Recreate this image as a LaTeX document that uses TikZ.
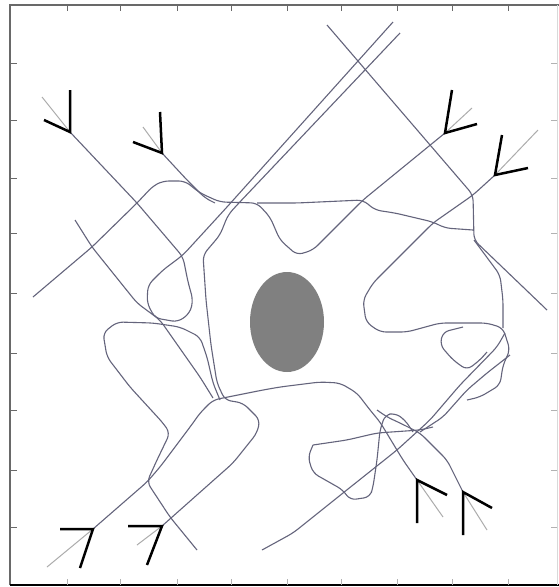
\documentclass[tikz,border=0pt]{standalone}
\usepackage{xcolor}
\usepackage{tikz}
\definecolor{trail}{RGB}{100,100,124}
\definecolor{frame}{RGB}{105,105,105}
\definecolor{blob}{RGB}{128,128,128}

\begin{document}
\begin{tikzpicture}[x=1pt,y=-1pt,
    trk/.style={draw=trail,line width=1.1pt,rounded corners=6pt},
    tail/.style={draw=gray!65,line width=1pt},
    vane/.style={draw=black,line width=2.5pt,line join=miter}]
  \useasboundingbox (0,0) rectangle (559,587);
  \fill[white] (0,0) rectangle (559,587);
  % box and ticks: x ticks every ~55 px, y ticks every ~58 px
  \draw[frame,line width=1.8pt] (10,585) -- (10,5) -- (559,5);
  \draw[black,line width=1.8pt] (10,585) -- (559,585);
  \draw[gray!30,line width=0.8pt] (557,5) -- (557,585);
  \foreach \x in {67,120,177,231,287,341,397,452,508} {
    \draw[frame,line width=0.9pt] (\x,5) -- (\x,11);
    \draw[gray!60,line width=0.9pt] (\x,585) -- (\x,579); }
  \foreach \y in {63,120,178,233,293,353,410,470,527} {
    \draw[frame,line width=0.9pt] (10,\y) -- (17,\y);
    \draw[gray!60,line width=0.9pt] (557,\y) -- (551,\y); }
  % obstacle
  \fill[blob] (287,322) ellipse (37 and 50);
  % tracks
  \draw[trk] (70,132) -- (137,203) -- (183,257) -- (188,282) -- (193,300) -- (190,313) -- (178,322) -- (155,318) -- (147,303) -- (148,285) -- (163,270) -- (183,255) -- (227,207) -- (393,22);
  \draw[trk] (400,33) -- (237,205) -- (228,215) -- (220,235) -- (203,255) -- (206,300) -- (211,345) -- (217,383) -- (225,400) -- (243,403) -- (260,420) -- (257,433) -- (233,463) -- (162,526);
  \draw[trk] (33,297) -- (92,247) -- (137,203) -- (153,186) -- (163,181) -- (185,181) -- (200,193) -- (220,202) -- (257,203) -- (270,217) -- (280,240) -- (297,255) -- (313,250) -- (363,200) -- (445,133);
  \draw[trk] (162,153) -- (187,180) -- (205,198) -- (215,203);
  \draw[trk] (257,203) -- (297,203) -- (363,200) -- (375,210) -- (395,213) -- (433,222) -- (445,228) -- (473,230);
  \draw[trk] (327,25) -- (473,195) -- (474,240) -- (547,310);
  \draw[trk] (495,175) -- (473,195) -- (433,223) -- (373,283) -- (363,300) -- (366,322) -- (380,332) -- (407,332) -- (440,323) -- (487,323) -- (503,328) -- (510,350) -- (503,365) -- (500,385) -- (480,397) -- (467,400);
  \draw[trk] (474,240) -- (500,275) -- (503,300) -- (503,328);
  \draw[trk] (75,220) -- (92,247) -- (137,303) -- (160,320) -- (167,330) -- (200,377) -- (213,398);
  \draw[trk] (220,400) -- (213,383) -- (207,357) -- (200,337) -- (180,327) -- (153,323) -- (117,322) -- (103,333) -- (107,357) -- (130,387) -- (163,423) -- (170,433) -- (157,460) -- (147,482) -- (170,517) -- (197,550);
  \draw[trk] (93,529) -- (147,482) -- (160,467) -- (193,423) -- (200,413) -- (213,400) -- (263,390) -- (280,387) -- (320,382) -- (340,383) -- (357,393) -- (370,410) -- (380,422) -- (403,460) -- (417,480);
  \draw[trk] (262,550) -- (293,533) -- (343,493) -- (397,450) -- (430,420) -- (460,385) -- (497,347) -- (505,333);
  \draw[trk] (420,432) -- (443,417) -- (467,390) -- (487,373) -- (510,355);
  \draw[trk] (463,492) -- (447,460) -- (420,433) -- (400,423) -- (387,417) -- (377,410);
  \draw[trk] (313,445) -- (308,457) -- (313,473) -- (343,490) -- (350,500) -- (370,497) -- (373,487) -- (377,460) -- (380,430) -- (385,415) -- (395,413) -- (405,420) -- (413,432);
  \draw[trk] (313,445) -- (347,440) -- (377,433) -- (420,430) -- (433,427);
  \draw[trk] (463,327) -- (443,332) -- (440,345) -- (453,360) -- (467,370) -- (480,360) -- (487,352);
  % feathered ends: tail, then the two black strokes meeting at the tip
  \foreach \tx/\ty/\fx/\fy in {70/132/42/97, 162/153/143/127, 445/133/472/108, 495/175/538/130,
                                93/529/47/567, 162/526/137/545, 417/480/443/517, 463/492/487/530}
    \draw[tail] (\fx,\fy) -- (\tx,\ty);
  \foreach \tx/\ty/\ax/\ay/\bx/\by in {70/132/70/90/44/120, 162/153/160/112/133/142,
                                        445/133/452/90/477/124, 495/175/502/135/528/168,
                                        93/529/60/529/80/568, 162/526/128/526/147/565,
                                        417/480/417/523/447/495, 463/492/463/535/492/508}
    \draw[vane] (\ax,\ay) -- (\tx,\ty) -- (\bx,\by);
\end{tikzpicture}
\end{document}
